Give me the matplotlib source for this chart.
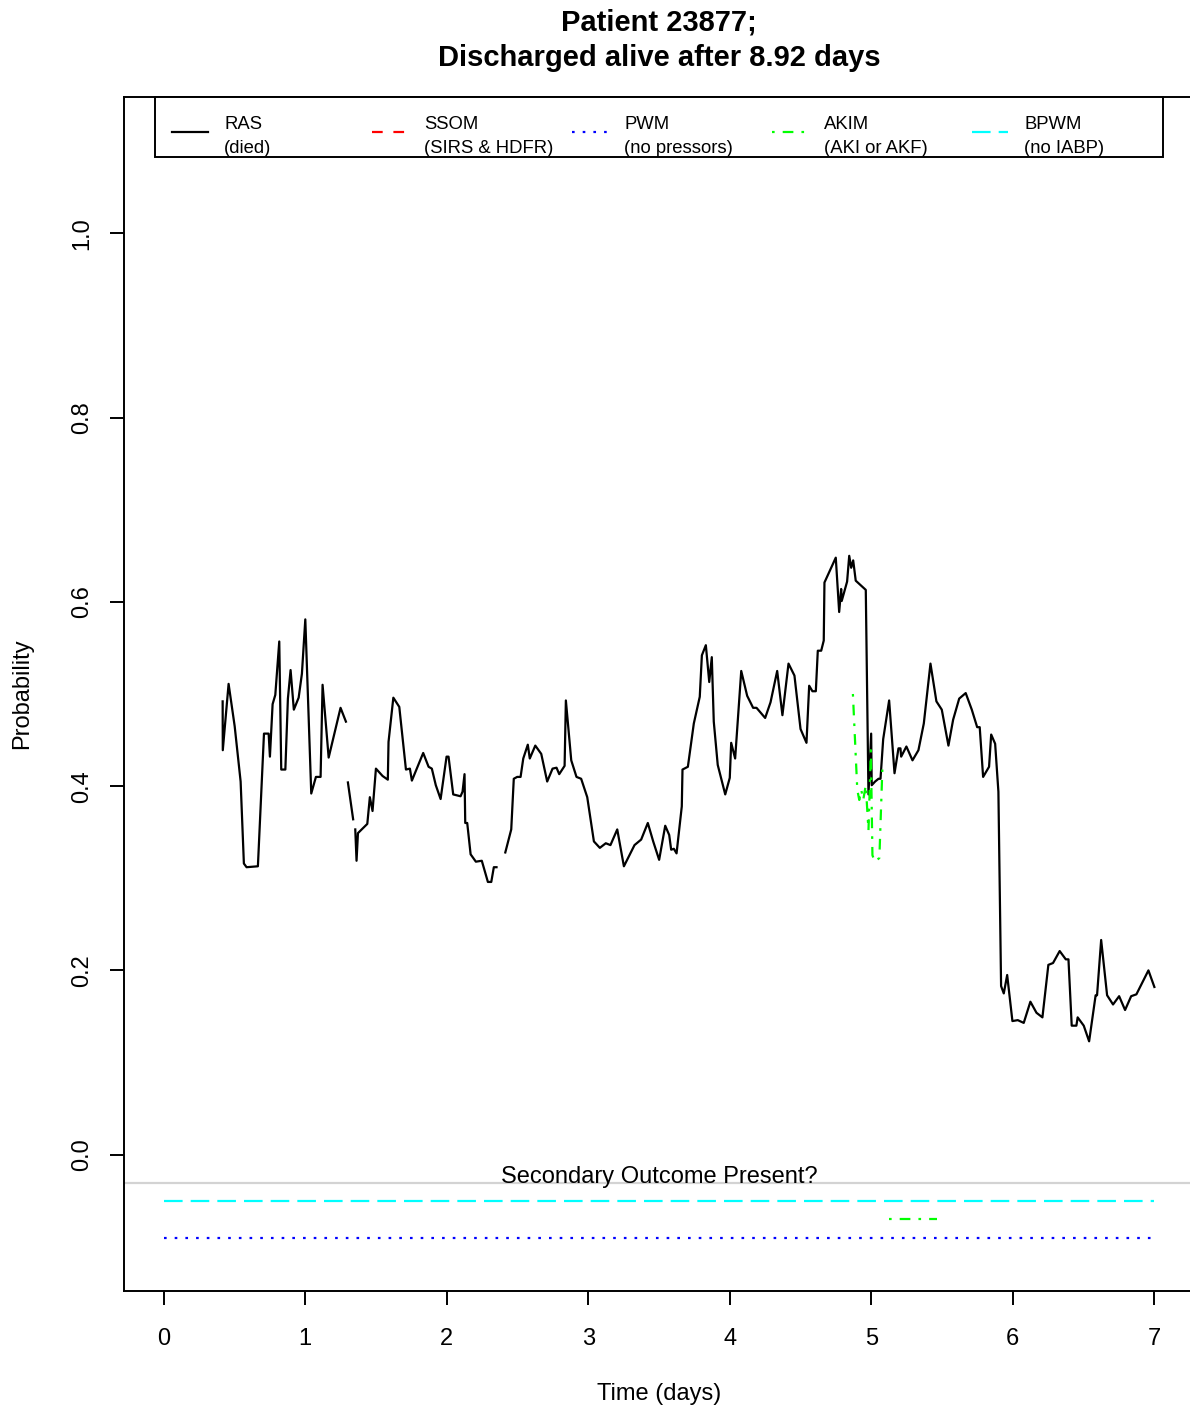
import numpy as np
import matplotlib
matplotlib.use("Agg")
import matplotlib.pyplot as plt
from matplotlib.lines import Line2D
from matplotlib.patches import Rectangle

plt.rcParams['font.family'] = ['Liberation Sans', 'DejaVu Sans']
plt.rcParams['lines.scale_dashes'] = False

title = "Patient 23877;\nDischarged alive after 8.92 days"

# RAS risk score (probability of death) over the stay, in stretches with scores
ras_days_1 = [0.417, 0.418, 0.459, 0.502, 0.544, 0.567, 0.586, 0.666, 0.709, 0.742,
              0.751, 0.770, 0.789, 0.817, 0.831, 0.860, 0.878, 0.897, 0.920, 0.954,
              0.977, 1.001, 1.043, 1.076, 1.109, 1.123, 1.166, 1.250, 1.288]
ras_prob_1 = [0.492, 0.439, 0.511, 0.465, 0.405, 0.316, 0.312, 0.313, 0.457, 0.457,
              0.432, 0.489, 0.499, 0.557, 0.418, 0.418, 0.495, 0.526, 0.483, 0.496,
              0.522, 0.581, 0.392, 0.410, 0.410, 0.510, 0.431, 0.485, 0.470]

ras_days_2 = [1.302, 1.339]
ras_prob_2 = [0.404, 0.364]

ras_days_3 = [1.354, 1.363, 1.373, 1.439, 1.457, 1.476, 1.500, 1.547, 1.584, 1.589,
              1.623, 1.665, 1.712, 1.740, 1.754, 1.834, 1.872, 1.895, 1.923, 1.957,
              1.999, 2.013, 2.046, 2.098, 2.112, 2.126, 2.131, 2.145, 2.169, 2.206,
              2.248, 2.291, 2.315, 2.333, 2.352]
ras_prob_3 = [0.353, 0.319, 0.349, 0.359, 0.388, 0.373, 0.419, 0.411, 0.407, 0.448,
              0.496, 0.486, 0.418, 0.419, 0.406, 0.436, 0.421, 0.419, 0.401, 0.386,
              0.432, 0.432, 0.391, 0.389, 0.394, 0.413, 0.360, 0.360, 0.326, 0.318,
              0.319, 0.296, 0.296, 0.312, 0.312]

ras_days_4 = [2.414, 2.456, 2.474, 2.498, 2.522, 2.541, 2.573, 2.587, 2.626, 2.668,
              2.710, 2.748, 2.776, 2.795, 2.833, 2.842, 2.880, 2.917, 2.950, 2.993,
              3.040, 3.082, 3.124, 3.157, 3.205, 3.252, 3.327, 3.374, 3.421, 3.459,
              3.501, 3.544, 3.572, 3.586, 3.605, 3.624, 3.661, 3.666, 3.704, 3.746,
              3.788, 3.803, 3.831, 3.855, 3.873, 3.887, 3.915, 3.968, 4.000, 4.010,
              4.038, 4.081, 4.123, 4.165, 4.189, 4.250, 4.288, 4.335, 4.372, 4.415,
              4.457, 4.500, 4.542, 4.561, 4.584, 4.608, 4.622, 4.646, 4.664, 4.669,
              4.749, 4.773, 4.787, 4.791, 4.829, 4.844, 4.858, 4.872, 4.890, 4.918,
              4.961, 4.980, 4.999, 5.003, 5.027, 5.051, 5.065, 5.084, 5.126, 5.164,
              5.192, 5.206, 5.211, 5.248, 5.291, 5.333, 5.371, 5.418, 5.460, 5.498,
              5.545, 5.578, 5.621, 5.667, 5.710, 5.748, 5.766, 5.790, 5.832, 5.847,
              5.875, 5.898, 5.917, 5.936, 5.960, 5.997, 6.035, 6.077, 6.124, 6.167,
              6.209, 6.251, 6.284, 6.331, 6.374, 6.393, 6.416, 6.449, 6.458, 6.501,
              6.539, 6.585, 6.595, 6.624, 6.666, 6.708, 6.751, 6.793, 6.836, 6.873,
              6.958, 7.000]
ras_prob_4 = [0.328, 0.353, 0.408, 0.410, 0.410, 0.430, 0.445, 0.430, 0.444, 0.435,
              0.405, 0.419, 0.420, 0.413, 0.422, 0.493, 0.428, 0.410, 0.408, 0.388,
              0.340, 0.333, 0.338, 0.336, 0.353, 0.313, 0.336, 0.342, 0.360, 0.340,
              0.320, 0.357, 0.347, 0.331, 0.332, 0.327, 0.378, 0.418, 0.421, 0.468,
              0.497, 0.542, 0.553, 0.513, 0.540, 0.470, 0.423, 0.391, 0.409, 0.447,
              0.430, 0.525, 0.498, 0.485, 0.485, 0.474, 0.491, 0.525, 0.477, 0.533,
              0.520, 0.462, 0.447, 0.509, 0.503, 0.503, 0.547, 0.547, 0.558, 0.621,
              0.648, 0.589, 0.614, 0.601, 0.622, 0.650, 0.637, 0.645, 0.623, 0.619,
              0.613, 0.391, 0.457, 0.401, 0.405, 0.408, 0.408, 0.451, 0.493, 0.414,
              0.441, 0.441, 0.432, 0.443, 0.428, 0.439, 0.468, 0.533, 0.492, 0.483,
              0.444, 0.472, 0.495, 0.501, 0.483, 0.464, 0.464, 0.410, 0.421, 0.456,
              0.446, 0.394, 0.183, 0.175, 0.195, 0.145, 0.146, 0.143, 0.166, 0.154,
              0.149, 0.206, 0.208, 0.221, 0.212, 0.212, 0.140, 0.140, 0.149, 0.140,
              0.123, 0.173, 0.173, 0.233, 0.173, 0.163, 0.172, 0.157, 0.172, 0.174,
              0.200, 0.182]

# AKIM model probability (acute kidney injury / failure)
akim_days = [4.870, 4.901, 4.915, 4.929, 4.943, 4.961, 4.980, 4.997, 5.008, 5.025,
             5.057, 5.078]
akim_prob = [0.500, 0.396, 0.385, 0.396, 0.385, 0.401, 0.352, 0.439, 0.325, 0.318,
             0.322, 0.418]

# Secondary outcome present: intervals (days) per model and their band level
bpwm_present = [(0.0, 7.0)]
akim_present = [(5.123, 5.465)]
pwm_present = [(0.0, 7.0)]
band_level = {"BPWM": -0.05, "AKIM": -0.07, "PWM": -0.09}

legend_names = ["RAS", "SSOM", "PWM", "AKIM", "BPWM"]
legend_desc = ["(died)", "(SIRS & HDFR)", "(no pressors)", "(AKI or AKF)", "(no IABP)"]
legend_colors = ["black", "red", "blue", "#00FF00", "cyan"]

x_ticks = [0, 1, 2, 3, 4, 5, 6, 7]
y_ticks = [0.0, 0.2, 0.4, 0.6, 0.8, 1.0]

# R-style line types, in points
SOLID = "-"
DASHED = (0, (7.7, 7.7))
DOTTED = (0, (1.9, 5.8))
DOTDASH = (0, (1.9, 5.8, 7.7, 5.8))
LONGDASH = (0, (13.4, 5.8))
legend_styles = [SOLID, DASHED, DOTTED, DOTDASH, LONGDASH]

LW = 1.6

def join_segments(parts):
    out = []
    for i, p in enumerate(parts):
        if i:
            out.append(np.nan)
        out.extend(p)
    return np.array(out, dtype=float)

ras_days = join_segments([ras_days_1, ras_days_2, ras_days_3, ras_days_4])
ras_prob = join_segments([ras_prob_1, ras_prob_2, ras_prob_3, ras_prob_4])

W, H = 1190, 1409
fig = plt.figure(figsize=(W / 100, H / 100), dpi=100)
ax = fig.add_axes([124 / W, (H - 1291) / H, 1070 / W, 1194 / H])
ax.set_xlim(-0.28, 7.28)
ax.set_ylim(-0.148, 1.148)

ax.plot(ras_days, ras_prob, color="black", lw=LW, ls=SOLID,
        solid_joinstyle="round")
ax.plot(akim_days, akim_prob, color="#00FF00", lw=LW, ls=DOTDASH)

# Secondary outcome strip
ax.axhline(-0.0304, color="#D3D3D3", lw=1.6)
ax.text(3.5, -0.0304, "Secondary Outcome Present?", ha="center", va="baseline",
        fontsize=17)
for (a, b) in bpwm_present:
    ax.plot([a, b], [band_level["BPWM"]] * 2, color="cyan", lw=LW, ls=LONGDASH)
for (a, b) in akim_present:
    ax.plot([a, b], [band_level["AKIM"]] * 2, color="#00FF00", lw=LW, ls=DOTDASH)
for (a, b) in pwm_present:
    ax.plot([a, b], [band_level["PWM"]] * 2, color="blue", lw=LW, ls=DOTTED)

# Axes styling
for s in ax.spines.values():
    s.set_linewidth(1.4)
ax.set_xticks(x_ticks)
ax.set_xticklabels([str(t) for t in x_ticks])
ax.set_yticks(y_ticks)
ax.set_yticklabels([f"{t:.1f}" for t in y_ticks])
ax.tick_params(axis="both", direction="out", length=10, width=1.4,
               labelsize=17)
ax.tick_params(axis="x", pad=16.5)
ax.tick_params(axis="y", pad=12)
for lbl in ax.get_yticklabels():
    lbl.set_rotation(90)
    lbl.set_va("center")

ax.set_xlabel("Time (days)", fontsize=17)
ax.xaxis.set_label_coords(0.5, (1291 - 1394) / 1194)
ax.xaxis.label.set_va("center")
ax.set_ylabel("Probability", fontsize=17)
ax.yaxis.set_label_coords((22 - 124) / 1070, (1291 - 694) / 1194)
ax.yaxis.label.set_va("center")

ax.set_title(title, fontsize=21, fontweight="bold", y=(1291 - 40) / 1194,
             va="center", linespacing=1.35, pad=0)

# Legend drawn R-style: five equal columns in a box hanging from the top
def ax_x(px):
    return (px - 124) / 1070

def ax_y(py):
    return (1291 - py) / 1194

ax.add_patch(Rectangle((ax_x(155), ax_y(157)), ax_x(1163) - ax_x(155),
                       ax_y(97) - ax_y(157), transform=ax.transAxes,
                       facecolor="white", edgecolor="black", lw=1.4,
                       clip_on=False, zorder=5))
for i, (name, desc, col, ls) in enumerate(zip(legend_names, legend_desc,
                                              legend_colors, legend_styles)):
    x0 = 172 + 200 * i
    ax.add_line(Line2D([ax_x(x0), ax_x(x0 + 36)], [ax_y(132), ax_y(132)],
                       transform=ax.transAxes, color=col, lw=LW, ls=ls,
                       clip_on=False, zorder=6))
    ax.text(ax_x(x0 + 52), ax_y(128.6), name, transform=ax.transAxes,
            ha="left", va="baseline", fontsize=13.3, zorder=6)
    ax.text(ax_x(x0 + 52), ax_y(153), desc, transform=ax.transAxes,
            ha="left", va="baseline", fontsize=13.3, zorder=6)

fig.savefig("out.png", dpi=100)
